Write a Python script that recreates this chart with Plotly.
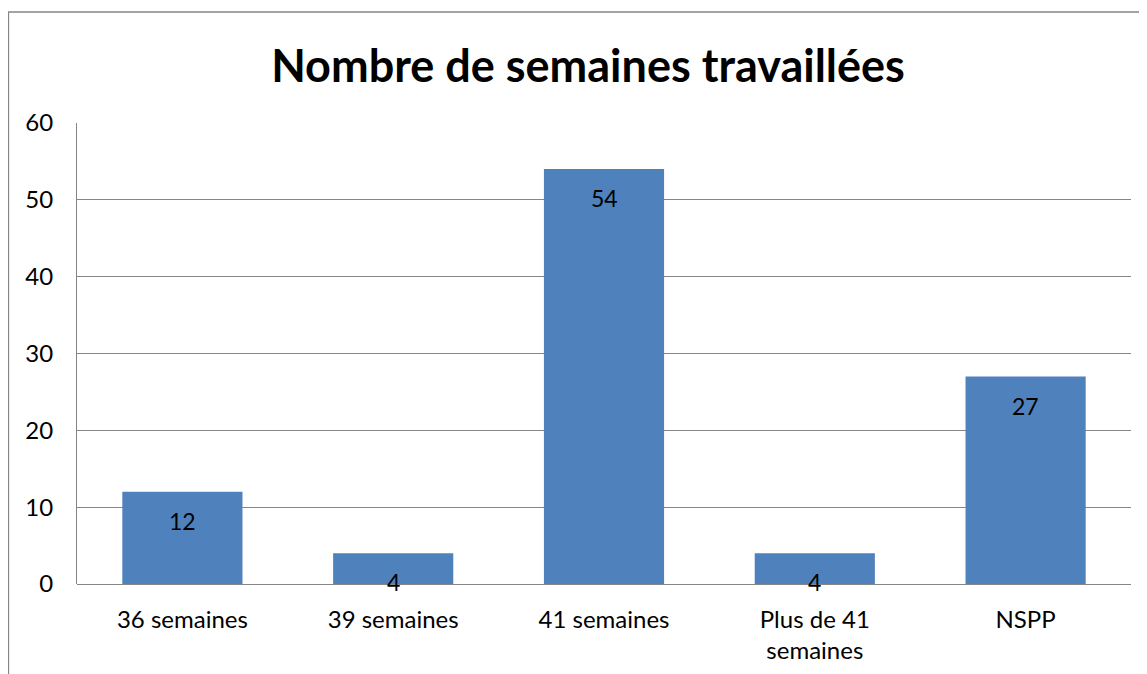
import plotly.graph_objects as go

categories = ["36 semaines", "39 semaines", "41 semaines", "Plus de 41<br>semaines", "NSPP"]
values = [12, 4, 54, 4, 27]
y_ticks = [0, 10, 20, 30, 40, 50, 60]

bar_color = "#4F81BD"
grid_color = "#868686"
font_family = "Lato, Carlito, Calibri, sans-serif"

# page body adds an 8px offset; figure is sized to fit the window
OFF = 8
W, H = 1147 - OFF, 674 - OFF
ml, mr, mt, mb = 77 - OFF, 16, 123 - OFF, 90
pw, ph = W - ml - mr, H - mt - mb

fig = go.Figure()
fig.add_trace(go.Bar(
    x=categories, y=values,
    marker=dict(color=bar_color, line=dict(width=0)),
    width=0.57,
    hoverinfo="x+y",
))

for c, v in zip(categories, values):
    fig.add_annotation(x=c, y=v, text=str(v), showarrow=False,
                       yanchor="middle", yshift=-29,
                       font=dict(family=font_family, size=23, color="#000000"))

# outer chart border (left and top visible)
fig.add_shape(type="rect", xref="paper", yref="paper",
              x0=(0.5 - ml) / pw, x1=(W + 20 - ml) / pw,
              y0=-(mb + 20) / ph, y1=(mt + ph - 4) / ph,
              line=dict(color=grid_color, width=1.3), fillcolor="rgba(0,0,0,0)", layer="below")

fig.update_layout(
    width=W, height=H,
    margin=dict(l=ml, r=mr, t=mt, b=mb, autoexpand=False),
    paper_bgcolor="white", plot_bgcolor="white",
    title=dict(text="<b>Nombre de semaines travaillées</b>", x=(588 - OFF) / W, xanchor="center",
               y=1 - (66 - OFF) / H, yanchor="middle", yref="container",
               font=dict(family=font_family, size=45, color="#000000")),
    font=dict(family=font_family, size=24, color="#000000"),
    showlegend=False,
)
fig.update_xaxes(showline=False, ticks="outside", ticklen=14, tickcolor="rgba(0,0,0,0)",
                 tickfont=dict(size=24), showgrid=False, automargin=False)
fig.update_yaxes(range=[0, 60], tickvals=y_ticks, showgrid=True, gridcolor=grid_color, gridwidth=1,
                 showline=True, linecolor=grid_color, linewidth=1, zeroline=True,
                 zerolinecolor=grid_color, zerolinewidth=1,
                 ticks="outside", ticklen=18, tickcolor="rgba(0,0,0,0)",
                 tickfont=dict(size=24), automargin=False)

fig.write_html("out.html")
